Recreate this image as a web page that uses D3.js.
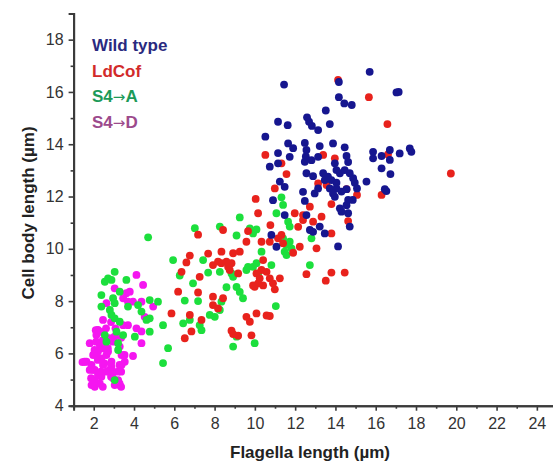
<!DOCTYPE html>
<html>
<head>
<meta charset="utf-8">
<script src="https://cdn.jsdelivr.net/npm/d3@7"></script>
<style>
  body { margin: 0; background: #fff; }
  svg { display: block; }
  text { font-family: "Liberation Sans", Arial, sans-serif; }
</style>
</head>
<body>
<svg id="chart" width="553" height="463"></svg>
<script>
// Flagella length (x, µm) vs cell body length (y, µm) per strain
const seriesNames = ["Wild type", "LdCof", "S4\u2192A", "S4\u2192D"];

const wildType = [
  [15.70,16.77],[14.17,16.38],[11.45,16.28],[17.03,15.98],[17.14,16.00],[14.17,15.80],[14.44,15.56],
  [14.81,15.50],[13.52,15.29],[11.15,14.86],[11.63,14.73],[12.59,15.03],[12.69,14.86],[12.83,14.70],
  [13.14,14.54],[13.72,14.77],[10.52,14.29],[11.65,14.03],[11.90,13.85],[12.48,14.05],[12.56,13.78],
  [12.53,13.53],[13.22,13.93],[13.88,14.03],[14.46,13.88],[15.87,13.71],[16.29,13.55],[16.70,13.78],
  [17.19,13.65],[17.69,13.84],[17.77,13.71],[11.15,13.66],[11.73,13.52],[14.55,13.55],[14.63,13.32],
  [13.97,13.27],[14.05,13.01],[11.15,13.27],[10.74,13.14],[12.48,13.33],[12.81,13.39],[13.14,13.52],
  [15.87,13.46],[16.70,13.40],[16.29,13.08],[16.73,12.86],[12.56,12.89],[12.89,12.78],[13.39,12.89],
  [13.63,12.76],[13.80,12.63],[14.05,12.53],[14.22,12.89],[14.46,13.01],[14.71,12.89],[14.88,12.70],
  [14.96,12.53],[15.54,12.57],[11.24,12.57],[11.48,12.37],[12.39,12.18],[12.97,12.12],[13.14,12.31],
  [13.72,12.31],[13.88,12.12],[13.97,11.99],[14.55,12.28],[15.07,12.31],[16.45,12.28],[16.53,12.21],
  [10.90,11.86],[12.48,11.83],[14.22,11.55],[14.30,11.42],[14.63,11.87],[14.86,11.87],[14.63,11.36],
  [14.71,10.85],[11.48,11.29],[12.56,11.29],[13.22,10.85],[12.73,10.72],[12.89,10.65],[13.47,10.59],
  [10.82,10.53],[14.13,10.09],[11.07,10.08],[14.05,12.31],[13.47,12.63],[14.30,12.19],[14.55,11.67]
];

const ldCof = [
  [14.13,16.46],[15.66,15.80],[16.58,14.77],[19.73,12.88],[10.52,13.59],[16.61,13.61],[13.39,13.59],
  [13.97,13.46],[11.32,13.27],[11.57,12.86],[10.99,12.31],[13.14,12.50],[13.56,12.44],[15.07,12.06],
  [16.29,12.06],[14.55,12.28],[10.04,11.91],[12.73,11.61],[13.80,11.71],[10.16,11.36],[14.63,11.06],
  [11.98,11.36],[12.39,11.29],[12.39,11.10],[12.89,11.04],[13.31,11.23],[12.15,10.84],[13.80,10.59],
  [10.77,10.91],[9.66,10.68],[8.42,10.72],[7.18,10.54],[11.32,10.53],[11.40,10.21],[11.15,10.40],
  [10.74,10.27],[11.90,9.85],[12.23,10.08],[13.06,10.02],[9.58,10.27],[10.33,10.27],[12.56,9.03],
  [13.80,9.09],[14.46,9.09],[13.52,8.78],[11.24,8.87],[10.90,8.68],[10.99,8.45],[10.74,7.43],
  [10.41,9.57],[10.33,9.19],[10.74,8.87],[10.16,8.68],[9.99,8.55],[10.08,9.06],[10.24,8.87],
  [10.58,9.12],[6.77,9.74],[6.60,9.48],[6.36,9.12],[7.26,8.93],[7.68,9.82],[7.92,9.38],
  [8.34,9.89],[8.34,9.45],[8.59,9.51],[8.84,9.45],[8.92,9.83],[9.25,9.89],[8.17,9.51],
  [8.67,9.31],[8.75,9.19],[9.17,9.06],[6.19,8.36],[7.18,8.33],[7.92,8.17],[9.91,8.60],
  [10.41,8.60],[8.42,8.11],[7.92,7.85],[8.17,7.72],[5.86,7.53],[6.77,7.47],[7.35,7.28],
  [6.85,6.84],[6.52,6.58],[8.84,6.87],[8.92,6.74],[9.17,6.68],[9.58,7.40],[9.75,7.21],
  [10.08,7.53],[9.83,6.69],[10.58,7.45]
];

const s4a = [
  [11.32,11.97],[11.40,11.68],[11.07,11.36],[11.65,11.04],[11.73,10.85],[9.25,11.20],[9.75,10.78],
  [10.08,10.74],[8.26,10.85],[7.02,10.79],[4.70,10.44],[9.09,10.51],[9.91,10.59],[11.40,10.40],
  [11.57,10.15],[11.73,10.27],[11.82,10.02],[11.48,9.89],[11.57,9.76],[12.81,10.40],[12.73,9.38],
  [10.82,9.38],[11.04,7.81],[10.33,9.89],[9.66,9.31],[9.91,9.31],[10.08,9.45],[10.16,9.06],
  [5.94,9.57],[7.43,9.57],[6.27,8.98],[6.93,8.68],[7.68,9.09],[8.84,9.06],[8.92,8.93],
  [8.26,9.12],[9.58,9.19],[8.59,8.53],[9.09,8.54],[9.25,8.35],[9.41,8.11],[6.52,8.02],
  [7.18,8.00],[8.34,7.98],[8.26,7.66],[8.01,7.40],[7.76,7.47],[6.77,7.28],[6.44,7.15],
  [7.26,7.08],[7.35,6.89],[9.09,6.64],[8.92,6.26],[9.99,6.39],[5.69,6.20],[5.44,5.63],
  [5.44,7.08],[3.04,9.12],[2.71,8.87],[2.55,8.74],[2.88,8.81],[3.62,8.81],[3.29,8.36],
  [2.38,8.23],[2.96,8.11],[3.04,7.92],[4.78,8.04],[5.19,7.98],[2.38,7.79],[3.70,7.79],
  [4.20,7.85],[2.80,7.66],[2.88,7.47],[4.37,7.60],[4.62,7.28],[3.04,7.34],[3.29,7.21],
  [3.13,6.83],[3.46,6.70],[4.04,6.64],[4.78,6.83],[4.78,7.34],[2.55,6.70],[2.63,6.45],
  [3.21,6.39],[3.21,6.13],[3.04,4.98]
];

const s4d = [
  [4.12,9.00],[4.45,8.62],[3.04,8.49],[3.62,8.30],[3.79,8.36],[3.46,8.11],[3.70,7.98],
  [3.95,7.98],[4.37,7.98],[4.95,7.79],[2.63,7.92],[4.53,7.40],[2.46,7.28],[3.46,7.08],
  [3.70,7.08],[4.12,6.96],[4.37,6.39],[2.21,6.90],[2.13,6.70],[1.80,6.39],[2.96,6.45],
  [3.29,6.26],[3.95,5.90],[3.54,5.68],[3.38,5.56],[1.44,5.67],[1.64,5.68],[1.89,5.56],
  [2.05,5.37],[2.13,5.94],[2.21,6.07],[2.38,5.81],[2.63,5.94],[2.71,6.07],[2.46,5.56],
  [2.88,5.68],[2.63,5.30],[2.96,5.30],[2.21,5.17],[2.05,4.98],[2.30,4.85],[1.89,4.79],
  [2.05,4.72],[3.21,5.30],[3.29,4.79],[3.04,4.79],[3.21,4.98],[2.96,5.05],[2.46,6.32],
  [4.37,6.84],[2.30,6.32],[1.97,5.94],[2.46,6.19],[3.38,5.94],[1.80,5.37],[2.88,5.49],
  [2.38,5.11],[2.10,6.89],[2.36,6.82],[2.61,6.96],[2.12,6.45],[2.45,6.51],[2.78,6.58],
  [3.03,6.64],[2.04,6.13],[2.36,6.20],[2.70,6.20],[3.53,5.94],[1.54,5.68],[2.20,5.75],
  [2.53,5.62],[3.28,5.56],[1.95,5.37],[2.36,5.30],[2.78,5.37],[3.36,5.30],[1.87,5.05],
  [2.86,5.11],[2.45,4.72],[3.28,4.85],[3.36,4.72],[3.08,6.96],[2.86,7.20],[3.36,6.60]
];

const xTicks = [2, 4, 6, 8, 10, 12, 14, 16, 18, 20, 22, 24];
const yTicks = [4, 6, 8, 10, 12, 14, 16, 18];

const dotColors = ["#15158f", "#e8221e", "#1fdf3c", "#f514f0"];
const labelColors = ["#2a2a80", "#d22a2a", "#1c9a58", "#9c4a8c"];

const svg = d3.select("#chart");

const x = d3.scaleLinear().domain([1, 25]).range([73.6, 557]);
const y = d3.scaleLinear().domain([4, 19]).range([405.7, 13.5]);

// soft edges on the dots
const defs = svg.append("defs");
defs.append("filter").attr("id", "soft")
  .attr("x", "-50%").attr("y", "-50%").attr("width", "200%").attr("height", "200%")
  .append("feGaussianBlur").attr("stdDeviation", 0.7);

// points; wild type last so it sits on top
const series = [wildType, ldCof, s4a, s4d];
const drawOrder = [3, 2, 1, 0];
const dots = svg.append("g").attr("filter", "url(#soft)");
drawOrder.forEach(i => {
  dots.append("g")
    .selectAll("circle")
    .data(series[i])
    .join("circle")
    .attr("cx", d => x(d[0]))
    .attr("cy", d => y(d[1]))
    .attr("r", 3.9)
    .attr("fill", dotColors[i]);
});

// axes
const axisColor = "#3a3a3a";
const xAxis = svg.append("g").attr("transform", `translate(0,${y(4)})`)
  .call(d3.axisBottom(x).tickValues(xTicks).tickSize(5).tickPadding(7).tickFormat(d3.format("d")));
const xMinor = svg.append("g").attr("transform", `translate(0,${y(4)})`)
  .call(d3.axisBottom(x).tickValues(d3.range(3, 25, 2)).tickSize(3).tickFormat(""));
const yAxis = svg.append("g").attr("transform", `translate(${x(1)},0)`)
  .call(d3.axisLeft(y).tickValues(yTicks).tickSize(5).tickPadding(5).tickFormat(d3.format("d")));
const yMinor = svg.append("g").attr("transform", `translate(${x(1)},0)`)
  .call(d3.axisLeft(y).tickValues(d3.range(5, 19, 2)).tickSize(3).tickFormat(""));

[xAxis, xMinor, yAxis, yMinor].forEach(g => {
  g.select(".domain").attr("stroke", axisColor).attr("stroke-width", 2);
  g.selectAll(".tick line").attr("stroke", axisColor).attr("stroke-width", 1.6);
  g.selectAll(".tick text").attr("fill", "#333").attr("font-size", 16)
    .attr("font-family", "'Liberation Sans', Arial, sans-serif");
});

// axis titles
svg.append("text")
  .attr("x", 310).attr("y", 458)
  .attr("text-anchor", "middle")
  .attr("font-size", 17).attr("font-weight", "bold").attr("fill", "#222")
  .text("Flagella length (\u00b5m)");

svg.append("text")
  .attr("transform", `translate(34,213) rotate(-90)`)
  .attr("text-anchor", "middle")
  .attr("font-size", 17).attr("font-weight", "bold").attr("fill", "#222")
  .text("Cell body length (\u00b5m)");

// legend; the arrow glyph comes from DejaVu for a full-width arrow
const legend = svg.append("g");
seriesNames.forEach((name, i) => {
  const t = legend.append("text")
    .attr("x", 92).attr("y", 51 + i * 25.5)
    .attr("font-size", 17).attr("font-weight", "bold")
    .attr("fill", labelColors[i]);
  name.split(/(\u2192)/).filter(s => s.length).forEach(part => {
    const span = t.append("tspan").text(part);
    if (part === "\u2192") span.attr("font-family", "'DejaVu Sans', sans-serif").attr("font-weight", "normal").attr("font-size", 15);
  });
});
</script>
</body>
</html>
